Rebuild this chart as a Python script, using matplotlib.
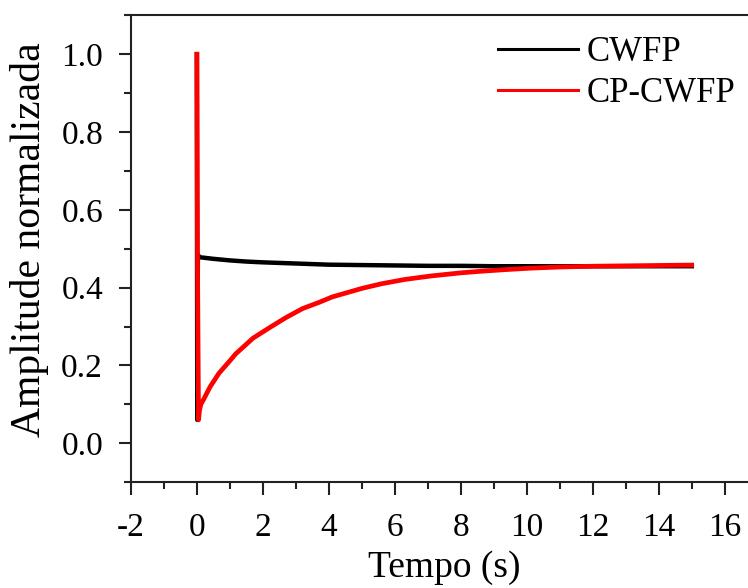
import matplotlib
matplotlib.use("Agg")
import matplotlib.pyplot as plt
from matplotlib.ticker import MultipleLocator

plt.rcParams['font.family'] = ['Liberation Serif', 'DejaVu Serif']
plt.rcParams['mathtext.fontset'] = 'stix'

# Normalized amplitude vs. time (s)
t_cwfp = [0.0, 0.005, 0.012, 0.02, 0.03, 0.06, 0.1, 0.3, 0.5, 1.0, 1.5, 2.0, 3.0,
          4.0, 5.0, 6.0, 7.0, 8.0, 9.0, 10.0, 11.0, 12.0, 13.0, 14.0, 15.0]
a_cwfp = [1.0, 0.50, 0.06, 0.30, 0.485, 0.480, 0.478, 0.476, 0.474, 0.470, 0.467,
          0.465, 0.462, 0.459, 0.458, 0.457, 0.456, 0.456, 0.455, 0.455, 0.455,
          0.455, 0.455, 0.455, 0.455]

t_cpcwfp = [0.0, 0.02, 0.05, 0.08, 0.12, 0.2, 0.4, 0.67, 1.0, 1.18, 1.7, 2.2, 2.7,
            3.2, 3.7, 4.1, 5.0, 5.6, 6.3, 7.1, 8.0, 8.6, 9.3, 10.1, 11.0, 12.0,
            13.0, 14.0, 15.0]
a_cpcwfp = [1.0, 0.45, 0.06, 0.085, 0.100, 0.112, 0.145, 0.180, 0.212, 0.230,
            0.270, 0.297, 0.323, 0.346, 0.362, 0.376, 0.398, 0.410, 0.421, 0.430,
            0.438, 0.442, 0.446, 0.450, 0.453, 0.455, 0.456, 0.457, 0.458]

series_labels = ["CWFP", "CP-CWFP"]
series_colors = ["black", "red"]

fig = plt.figure(figsize=(7.48, 5.88), dpi=100)
ax = fig.add_axes([0.175, 0.180, 0.838, 0.794])

ax.plot(t_cwfp, a_cwfp, color=series_colors[0], lw=3.2, label=series_labels[0],
        solid_joinstyle='round')
ax.plot(t_cpcwfp, a_cpcwfp, color=series_colors[1], lw=3.4, label=series_labels[1],
        solid_joinstyle='round')

ax.set_xlim(-2, 17)
ax.set_ylim(-0.1, 1.1)
ax.xaxis.set_major_locator(MultipleLocator(2))
ax.xaxis.set_minor_locator(MultipleLocator(1))
ax.yaxis.set_major_locator(MultipleLocator(0.2))
ax.yaxis.set_minor_locator(MultipleLocator(0.1))
ax.set_xticks([-2, 0, 2, 4, 6, 8, 10, 12, 14, 16])
ax.set_xticklabels(["-2", "0", "2", "4", "6", "8", "10", "12", "14", "16"])
ax.set_yticks([0.0, 0.2, 0.4, 0.6, 0.8, 1.0])
ax.set_yticklabels(["0.0", "0.2", "0.4", "0.6", "0.8", "1.0"])

for s in ax.spines.values():
    s.set_linewidth(1.5)
    s.set_color('#222222')
ax.tick_params(which='major', direction='out', length=9, width=1.5,
               labelsize=24, colors='#222222', labelcolor='black')
ax.tick_params(axis='x', which='major', pad=13)
ax.tick_params(axis='y', which='major', pad=11)
ax.tick_params(which='minor', direction='out', length=5, width=1.5, colors='#222222')
ax.tick_params(top=False, right=False, which='both')

ax.set_xlabel("Tempo (s)", fontsize=27, labelpad=5)
ax.set_ylabel("Amplitude normalizada", fontsize=30, labelpad=6)
ax.yaxis.set_label_coords(-0.13, 0.52)

leg = ax.legend(loc='upper left', bbox_to_anchor=(0.553, 1.0), frameon=False,
                fontsize=25, handlelength=2.3, handletextpad=0.25,
                labelspacing=0.22, borderaxespad=0.2)
for line in leg.get_lines():
    line.set_linewidth(2.2)

fig.savefig("out.png", dpi=100)
